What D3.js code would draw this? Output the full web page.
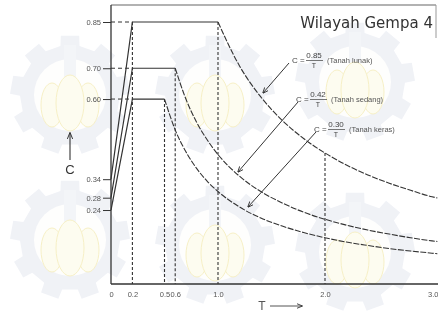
<!DOCTYPE html>
<html><head><meta charset="utf-8">
<script src="https://cdn.jsdelivr.net/npm/d3@7"></script>
<style>body{margin:0;background:#fff}svg{display:block}</style>
</head><body>
<svg id="c" width="438" height="320"></svg>
<script>
// ---- data ----
const yTicks = [0.24, 0.28, 0.34, 0.60, 0.70, 0.85];
const xTicks = [0, 0.2, 0.5, 0.6, 1.0, 2.0, 3.0];
const xTickLabels = ["0", "0.2", "0.5", "0.6", "1.0", "2.0", "3.0"];

// Tanah lunak
const lunakT = [0, 0.2, 1.0, 1.2, 1.4, 1.6, 1.8, 2.0, 2.2, 2.4, 2.6, 2.8, 3.0, 3.05];
const lunakC = [0.34, 0.85, 0.85, 0.708, 0.607, 0.531, 0.472, 0.425, 0.386, 0.354, 0.327, 0.304, 0.283, 0.279];
// Tanah sedang
const sedangT = [0, 0.2, 0.6, 0.7, 0.8, 0.9, 1.0, 1.2, 1.4, 1.6, 1.8, 2.0, 2.2, 2.4, 2.6, 2.8, 3.0, 3.05];
const sedangC = [0.28, 0.70, 0.70, 0.60, 0.525, 0.467, 0.42, 0.35, 0.30, 0.263, 0.233, 0.21, 0.191, 0.175, 0.162, 0.15, 0.14, 0.138];
// Tanah keras
const kerasT = [0, 0.2, 0.5, 0.6, 0.7, 0.8, 0.9, 1.0, 1.2, 1.4, 1.6, 1.8, 2.0, 2.2, 2.4, 2.6, 2.8, 3.0, 3.05];
const kerasC = [0.24, 0.60, 0.60, 0.50, 0.429, 0.375, 0.333, 0.30, 0.25, 0.214, 0.188, 0.167, 0.15, 0.136, 0.125, 0.115, 0.107, 0.10, 0.098];

// vertical guide lines [T, C top]
const guideT = [0.2, 0.5, 0.6, 1.0, 2.0];
const guideC = [0.85, 0.60, 0.70, 0.85, 0.425];

const labelNum = ["0.85", "0.42", "0.30"];
const labelSoil = ["(Tanah lunak)", "(Tanah sedang)", "(Tanah keras)"];
const title = "Wilayah Gempa 4";

// ---- drawing ----
const svg = d3.select("#c");
const x = d3.scaleLinear().domain([0, 3]).range([111, 432]);
const y = d3.scaleLinear().domain([0, 0.85]).range([284, 22]);
const ink = "#333";

// watermark
const wm = svg.append("g").attr("opacity", 0.6);
const wmPos = [[70, 95], [215, 95], [355, 82], [70, 240], [215, 245], [355, 252]];
function gearPath(r1, r2, n) {
  const pts = [];
  for (let i = 0; i < n; i++) {
    const a0 = (i / n) * 2 * Math.PI;
    const w = Math.PI / n * 0.55;
    pts.push([a0 - w, r1], [a0 - w * 0.8, r2], [a0 + w * 0.8, r2], [a0 + w, r1]);
  }
  return d3.lineRadial().angle(d => d[0]).radius(d => d[1]).curve(d3.curveLinearClosed)(pts);
}
wmPos.forEach(p => {
  const g = wm.append("g").attr("transform", `translate(${p[0]},${p[1]})`);
  g.append("path").attr("d", gearPath(50, 60, 9)).attr("fill", "#e6e9f1");
  g.append("circle").attr("r", 36).attr("fill", "#fefefc");
  g.append("rect").attr("x", -6).attr("y", -50).attr("width", 12).attr("height", 50).attr("fill", "#eceef3");
  [[-18, 10, 11, 22], [18, 10, 11, 22], [0, 8, 14, 28]].forEach(e => {
    g.append("ellipse").attr("cx", e[0]).attr("cy", e[1]).attr("rx", e[2]).attr("ry", e[3])
      .attr("fill", "#fcfae6").attr("stroke", "#f1e6a0").attr("stroke-width", 1);
  });
});

// frame
svg.append("line").attr("x1", 111).attr("x2", 436).attr("y1", 5).attr("y2", 5).attr("stroke", "#666").attr("stroke-width", 1.2);
svg.append("line").attr("x1", 436).attr("x2", 436).attr("y1", 5).attr("y2", 38).attr("stroke", "#999").attr("stroke-width", 1);

// axes
const tickFont = "7.5px 'Liberation Sans', Arial, sans-serif";
const yAxis = d3.axisLeft(y).tickValues(yTicks).tickFormat(d3.format(".2f")).tickSize(8).tickPadding(2);
const gy = svg.append("g").attr("transform", "translate(111,0)").call(yAxis);
gy.select(".domain").remove();
gy.selectAll("line").attr("stroke", ink);
gy.selectAll("text").attr("fill", "#555").style("font", tickFont);
svg.append("line").attr("x1", 111).attr("x2", 111).attr("y1", 5).attr("y2", 284).attr("stroke", ink).attr("stroke-width", 1.3);

const xAxis = d3.axisBottom(x).tickValues(xTicks).tickFormat((d, i) => xTickLabels[i]).tickSize(0).tickPadding(8);
const gx = svg.append("g").attr("transform", "translate(0,284)").call(xAxis);
gx.select(".domain").remove();
gx.selectAll("text").attr("fill", "#555").style("font", tickFont);
gx.selectAll("text").filter(d => d === 3.0).attr("text-anchor", "end").attr("dx", 6);
svg.append("line").attr("x1", 111).attr("x2", 438).attr("y1", 284).attr("y2", 284).attr("stroke", ink).attr("stroke-width", 1.3);

// guides
guideT.forEach((t, i) => {
  svg.append("line").attr("x1", x(t)).attr("x2", x(t)).attr("y1", y(guideC[i])).attr("y2", y(0))
    .attr("stroke", ink).attr("stroke-width", 1.1).attr("stroke-dasharray", "3,2");
});
[0.85, 0.70, 0.60].forEach(c => {
  svg.append("line").attr("x1", x(0)).attr("x2", x(0.2)).attr("y1", y(c)).attr("y2", y(c))
    .attr("stroke", ink).attr("stroke-width", 1).attr("stroke-dasharray", "4,3");
});

// series
const series = [[lunakT, lunakC], [sedangT, sedangC], [kerasT, kerasC]];
const lin = d3.line().x(d => x(d[0])).y(d => y(d[1]));
const smooth = d3.line().x(d => x(d[0])).y(d => y(d[1])).curve(d3.curveMonotoneX);
series.forEach(s => {
  const pts = s[0].map((t, i) => [t, s[1][i]]);
  svg.append("path").attr("d", lin(pts.slice(0, 3))).attr("fill", "none").attr("stroke", ink).attr("stroke-width", 1.2);
  svg.append("path").attr("d", smooth(pts.slice(2))).attr("fill", "none").attr("stroke", ink)
    .attr("stroke-width", 1.1).attr("stroke-dasharray", "6,1.5");
});

// arrow marker
const defs = svg.append("defs");
defs.append("marker").attr("id", "ah").attr("viewBox", "0 0 10 10").attr("refX", 9).attr("refY", 5)
  .attr("markerWidth", 6).attr("markerHeight", 6).attr("orient", "auto")
  .append("path").attr("d", "M0,1 L10,5 L0,9").attr("fill", "none").attr("stroke", ink).attr("stroke-width", 1.5);

// annotations
const ann = [
  {cx: 292, cy: 60, arrow: [289, 63, 263, 93]},
  {cx: 296, cy: 99, arrow: [298, 102, 238, 172]},
  {cx: 314, cy: 129, arrow: [316, 132, 248, 207]}
];
const small = "8px 'Liberation Sans', Arial, sans-serif";
ann.forEach((a, i) => {
  svg.append("line").attr("x1", a.arrow[0]).attr("y1", a.arrow[1]).attr("x2", a.arrow[2]).attr("y2", a.arrow[3])
    .attr("stroke", ink).attr("stroke-width", 1).attr("marker-end", "url(#ah)");
  const g = svg.append("g").attr("transform", `translate(${a.cx},${a.cy})`);
  g.append("text").attr("x", 0).attr("y", 3).text("C =").style("font", small).attr("fill", "#444");
  g.append("text").attr("x", 22).attr("y", -2).attr("text-anchor", "middle").text(labelNum[i]).style("font", small).attr("fill", "#444");
  g.append("line").attr("x1", 14).attr("x2", 31).attr("y1", 0.5).attr("y2", 0.5).attr("stroke", "#555").attr("stroke-width", 0.8);
  g.append("text").attr("x", 22).attr("y", 8).attr("text-anchor", "middle").text("T").style("font", "7px 'Liberation Sans', Arial, sans-serif").attr("fill", "#444");
  g.append("text").attr("x", 35).attr("y", 3).text(labelSoil[i]).style("font", "7.5px 'Liberation Sans', Arial, sans-serif").attr("fill", "#555");
});

svg.append("text").attr("x", 433).attr("y", 28).attr("text-anchor", "end").text(title)
  .style("font", "15px 'DejaVu Sans', Verdana, sans-serif").attr("fill", "#333");

// axis names
svg.append("line").attr("x1", 70).attr("x2", 70).attr("y1", 160).attr("y2", 133).attr("stroke", ink).attr("stroke-width", 1.1).attr("marker-end", "url(#ah)");
svg.append("text").attr("x", 70).attr("y", 174).attr("text-anchor", "middle").text("C").style("font", "13px 'Liberation Sans', Arial, sans-serif").attr("fill", "#333");
svg.append("text").attr("x", 262).attr("y", 310).attr("text-anchor", "middle").text("T").style("font", "12px 'Liberation Sans', Arial, sans-serif").attr("fill", "#555");
svg.append("line").attr("x1", 270).attr("x2", 302).attr("y1", 306).attr("y2", 306).attr("stroke", "#555").attr("stroke-width", 1).attr("marker-end", "url(#ah)");
</script>
</body></html>
